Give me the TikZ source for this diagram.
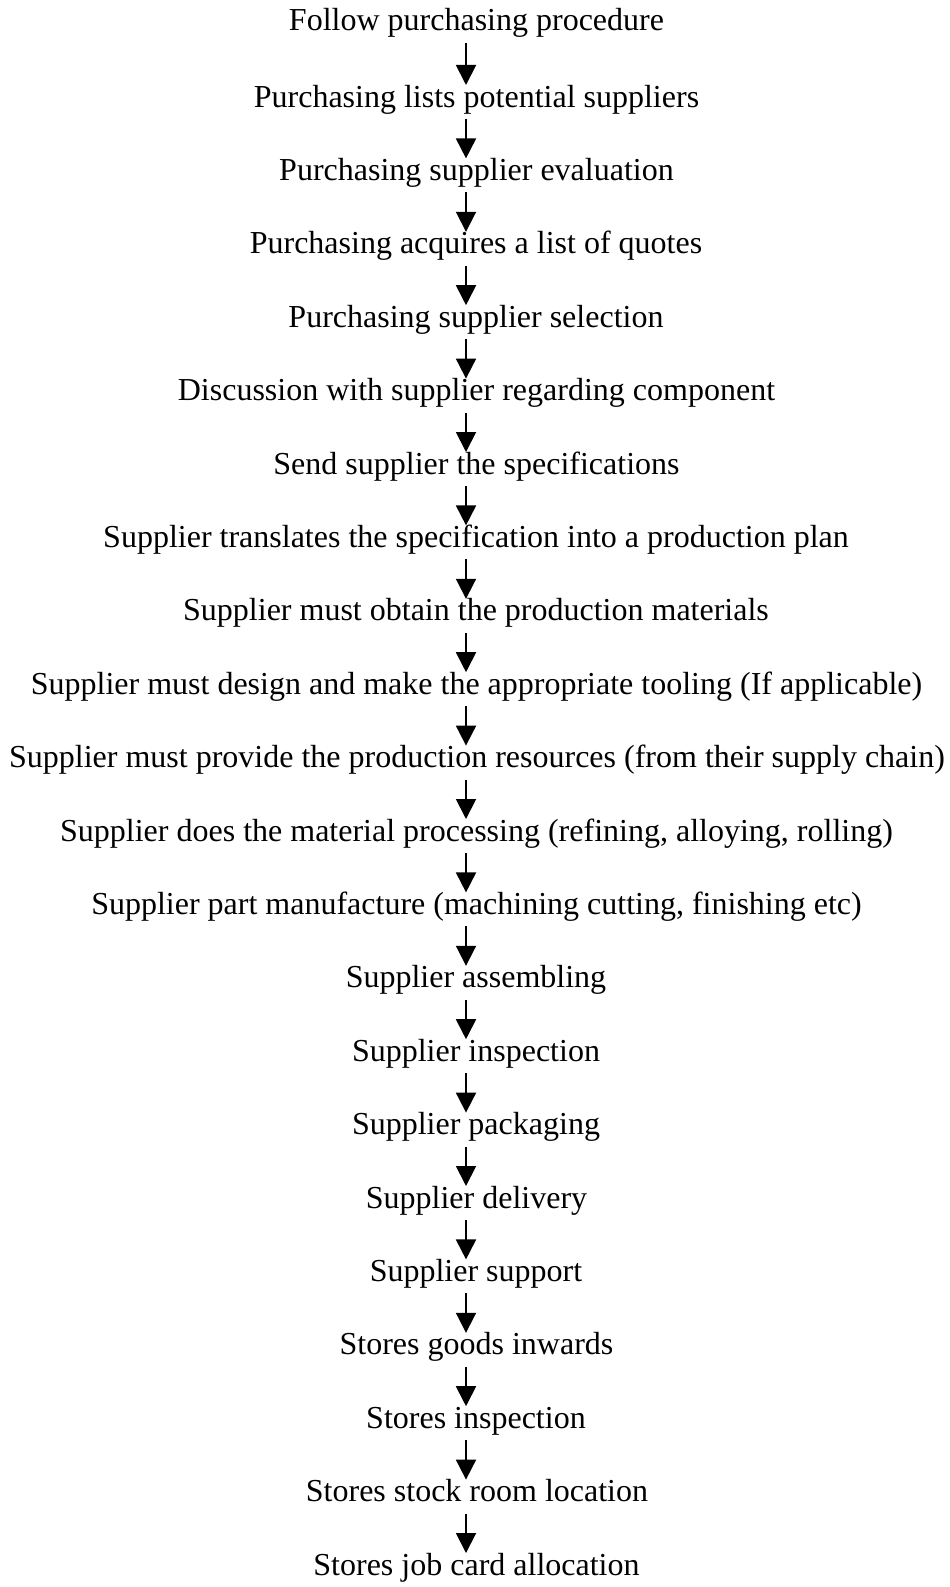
\documentclass[tikz,border=0pt]{standalone}
\usepackage{fontspec}
\setmainfont{Liberation Serif}
\usetikzlibrary{arrows.meta,calc}
\begin{document}
\begin{tikzpicture}[x=1pt,y=-1pt,
  stepnode/.style={anchor=base,inner sep=0pt,font=\fontsize{32}{38}\selectfont},
  flowarrow/.style={line width=1.9pt,-{Triangle[length=20pt,width=20pt]}}]
  % page
  \fill[white] (0,0) rectangle (950,1587);
  \useasboundingbox (0,0) rectangle (950,1587);
  % vertical line that all arrows follow
  \coordinate (spine) at (466,0);
  % process steps, top to bottom
  \node[stepnode] (n0)  at (476.5,  31.0) {Follow purchasing procedure};
  \node[stepnode] (n1)  at (476.5, 107.0) {Purchasing lists potential suppliers};
  \node[stepnode] (n2)  at (476.5, 180.4) {Purchasing supplier evaluation};
  \node[stepnode] (n3)  at (476.0, 253.8) {Purchasing acquires a list of quotes};
  \node[stepnode] (n4)  at (476.0, 327.2) {Purchasing supplier selection};
  \node[stepnode] (n5)  at (476.5, 400.6) {Discussion with supplier regarding component};
  \node[stepnode] (n6)  at (476.5, 474.0) {Send supplier the specifications};
  \node[stepnode] (n7)  at (476.0, 547.4) {Supplier translates the specification into a production plan};
  \node[stepnode] (n8)  at (476.0, 620.8) {Supplier must obtain the production materials};
  \node[stepnode] (n9)  at (476.5, 694.2) {Supplier must design and make the appropriate tooling (If applicable)};
  \node[stepnode] (n10) at (477.0, 767.6) {Supplier must provide the production resources (from their supply chain)};
  \node[stepnode] (n11) at (476.5, 841.0) {Supplier does the material processing (refining, alloying, rolling)};
  \node[stepnode] (n12) at (476.5, 914.4) {Supplier part manufacture (machining cutting, finishing etc)};
  \node[stepnode] (n13) at (476.0, 987.8) {Supplier assembling};
  \node[stepnode] (n14) at (476.0,1061.2) {Supplier inspection};
  \node[stepnode] (n15) at (476.0,1134.6) {Supplier packaging};
  \node[stepnode] (n16) at (476.5,1208.0) {Supplier delivery};
  \node[stepnode] (n17) at (476.0,1281.4) {Supplier support};
  \node[stepnode] (n18) at (476.5,1354.8) {Stores goods inwards};
  \node[stepnode] (n19) at (476.0,1428.2) {Stores inspection};
  \node[stepnode] (n20) at (477.0,1501.6) {Stores stock room location};
  \node[stepnode] (n21) at (476.5,1575.0) {Stores job card allocation};
  % arrows from each step to the next
  \foreach \i [evaluate=\i as \j using int(\i+1)] in {0,...,20}{
    \draw[flowarrow] ($(n\i.base -| spine)+(0,12)$) -- ($(n\j.base -| spine)+(0,-22)$);
  }
\end{tikzpicture}
\end{document}
